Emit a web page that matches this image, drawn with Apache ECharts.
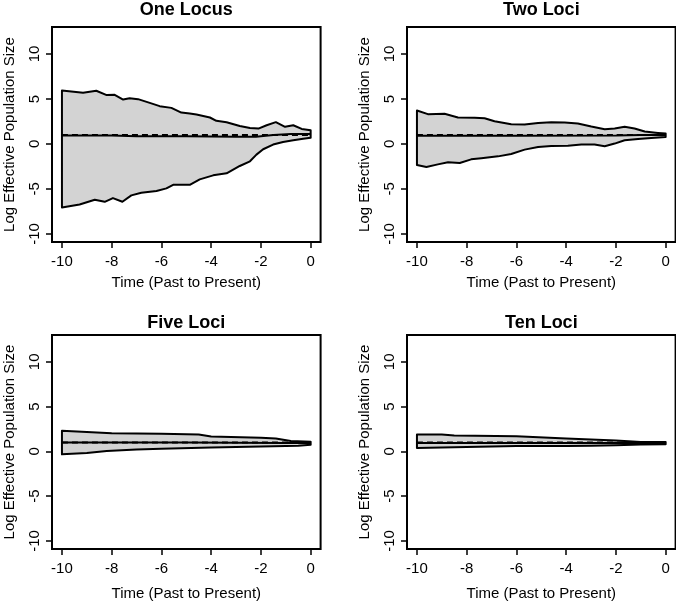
<!DOCTYPE html>
<html>
<head>
<meta charset="utf-8">
<script src="https://cdn.jsdelivr.net/npm/echarts@6/dist/echarts.min.js"></script>
<style>
html,body{margin:0;padding:0;background:#fff;}
#chart{width:676px;height:603px;}
</style>
</head>
<body>
<div id="chart"></div>
<script>
// ---------- data ----------
const panelTitles = ['One Locus', 'Two Loci', 'Five Loci', 'Ten Loci'];
const xTicks = [-10, -8, -6, -4, -2, 0];
const yTicks = [-10, -5, 0, 5, 10];
const trueLevel = [[-10, 1.0], [0, 1.0]];

const oneUpper = [[-10,5.95],[-9.15,5.69],[-8.62,5.91],[-8.2,5.43],[-7.88,5.46],[-7.54,4.94],[-7.28,5.09],[-6.94,4.98],[-6.47,4.57],[-6.07,4.2],[-5.6,4.01],[-5.2,3.49],[-4.86,3.38],[-4.59,3.27],[-4.05,2.94],[-3.79,2.57],[-3.38,2.42],[-2.85,2.0],[-2.44,1.78],[-2.1,1.71],[-1.77,2.08],[-1.4,2.42],[-1.03,1.9],[-0.7,2.08],[-0.36,1.67],[0,1.52]];
const oneLower = [[-10,-7.06],[-9.29,-6.73],[-8.68,-6.21],[-8.28,-6.43],[-7.95,-6.02],[-7.57,-6.43],[-7.21,-5.72],[-6.81,-5.43],[-6.2,-5.24],[-5.8,-4.94],[-5.53,-4.54],[-4.86,-4.54],[-4.46,-3.94],[-3.92,-3.49],[-3.38,-3.27],[-2.85,-2.45],[-2.44,-1.93],[-2.18,-1.19],[-1.91,-0.59],[-1.51,-0.07],[-1.11,0.22],[-0.7,0.41],[-0.3,0.59],[0,0.7]];
const oneMedian = [[-10,0.95],[-8,0.95],[-7,0.85],[-5,0.85],[-3,0.8],[-2.2,0.8],[-1.5,1.0],[-0.8,1.1],[0,1.1]];

const twoUpper = [[-10,3.72],[-9.56,3.31],[-8.89,3.35],[-8.35,2.94],[-7.68,2.9],[-7.28,2.86],[-6.88,2.53],[-6.21,2.19],[-5.67,2.16],[-5.13,2.34],[-4.6,2.42],[-4.06,2.38],[-3.53,2.27],[-2.99,1.93],[-2.45,1.64],[-2.05,1.71],[-1.65,1.9],[-1.25,1.71],[-0.84,1.38],[-0.31,1.23],[0,1.15]];
const twoLower = [[-10,-2.34],[-9.62,-2.57],[-9.16,-2.27],[-8.75,-2.04],[-8.28,-2.12],[-7.82,-1.71],[-7.41,-1.6],[-6.74,-1.38],[-6.21,-1.12],[-5.67,-0.63],[-5.13,-0.33],[-4.6,-0.22],[-3.93,-0.19],[-3.39,-0.07],[-2.86,-0.07],[-2.45,-0.26],[-2.05,0.04],[-1.65,0.41],[-1.11,0.56],[-0.58,0.67],[0,0.78]];
const twoMedian = [[-10,0.9],[-6,0.9],[-2,0.95],[-1,1.0],[0,1.0]];

const fiveUpper = [[-10,2.3],[-8,2.04],[-6,1.96],[-4.5,1.89],[-4,1.67],[-2,1.52],[-1.4,1.44],[-0.8,1.15],[0,1.07]];
const fiveLower = [[-10,-0.33],[-9,-0.19],[-8.2,0.04],[-7,0.22],[-6,0.3],[-4,0.44],[-2,0.56],[-1,0.59],[-0.5,0.63],[0,0.74]];
const fiveMedian = [[-10,1.0],[-5,1.0],[-1,0.95],[0,0.95]];

const tenUpper = [[-10,1.89],[-9,1.89],[-8.5,1.78],[-6,1.7],[-4,1.44],[-2,1.22],[-1,1.04],[0,1.04]];
const tenLower = [[-10,0.37],[-8,0.48],[-6,0.59],[-4,0.59],[-3,0.63],[-2,0.7],[-1,0.78],[0,0.81]];
const tenMedian = [[-10,0.95],[-5,0.95],[0,0.95]];

const uppers = [oneUpper, twoUpper, fiveUpper, tenUpper];
const lowers = [oneLower, twoLower, fiveLower, tenLower];
const medians = [oneMedian, twoMedian, fiveMedian, tenMedian];

// ---------- layout ----------
const FONT = 'Liberation Sans, Arial, Helvetica, sans-serif';
const grids = [
  {left: 52, top: 27, width: 268.6, height: 215},
  {left: 407, top: 27, width: 268.6, height: 215},
  {left: 52, top: 335, width: 268.6, height: 214},
  {left: 407, top: 335, width: 268.6, height: 214}
];
const titleTops = [1.5, 1.5, 314, 314];
const xNameGaps = [33, 33, 37, 37];

const option = {
  animation: false,
  backgroundColor: '#fff',
  title: grids.map((g, i) => ({
    text: panelTitles[i],
    left: g.left + g.width / 2,
    top: titleTops[i],
    padding: 0,
    textAlign: 'center',
    textStyle: {fontFamily: FONT, fontWeight: 'bold', fontSize: 18, color: '#000'}
  })),
  grid: grids.map(g => Object.assign({show: true, borderColor: '#000', borderWidth: 2, backgroundColor: 'transparent', containLabel: false}, g)),
  xAxis: grids.map((g, i) => ({
    type: 'value', gridIndex: i, min: -10.4, max: 0.4, position: 'bottom',
    name: 'Time (Past to Present)', nameLocation: 'middle', nameGap: xNameGaps[i],
    nameTextStyle: {fontFamily: FONT, fontSize: 15, color: '#000'},
    axisLine: {show: false, onZero: false},
    splitLine: {show: false},
    axisTick: {show: true, inside: false, length: 6, customValues: xTicks, lineStyle: {color: '#000', width: 1.5}},
    axisLabel: {show: true, customValues: xTicks, margin: 12, fontFamily: FONT, fontSize: 15, color: '#000', showMinLabel: true, showMaxLabel: true}
  })),
  yAxis: grids.map((g, i) => ({
    type: 'value', gridIndex: i, min: -10.9, max: 13.0, position: 'left',
    name: 'Log Effective Population Size', nameLocation: 'middle', nameGap: 35, nameRotate: 90,
    nameTextStyle: {fontFamily: FONT, fontSize: 15, color: '#000'},
    axisLine: {show: false, onZero: false},
    splitLine: {show: false},
    axisTick: {show: true, inside: false, length: 6, customValues: yTicks, lineStyle: {color: '#000', width: 1.5}},
    axisLabel: {show: true, customValues: yTicks, rotate: 90, margin: 10, fontFamily: FONT, fontSize: 15, color: '#000'}
  })),
  series: []
};

for (let i = 0; i < 4; i++) {
  const up = uppers[i], lo = lowers[i];
  option.series.push({
    type: 'custom', xAxisIndex: i, yAxisIndex: i,
    data: [[up[0][0], up[0][1]]],
    silent: true,
    renderItem: function (params, api) {
      const pts = up.map(p => api.coord(p)).concat(lo.slice().reverse().map(p => api.coord(p)));
      return {type: 'polygon', shape: {points: pts}, style: {fill: '#d3d3d3', stroke: '#000', lineWidth: 2, lineJoin: 'round'}};
    }
  });
  option.series.push({
    type: 'line', xAxisIndex: i, yAxisIndex: i, data: medians[i], symbol: 'none',
    lineStyle: {color: '#000', width: 2}, z: 3, silent: true
  });
  option.series.push({
    type: 'line', xAxisIndex: i, yAxisIndex: i, data: trueLevel, symbol: 'none',
    lineStyle: {color: '#000', width: 2, type: [6, 4]}, z: 4, silent: true
  });
}

const chart = echarts.init(document.getElementById('chart'), null, {renderer: 'canvas'});
chart.setOption(option);
</script>
</body>
</html>
